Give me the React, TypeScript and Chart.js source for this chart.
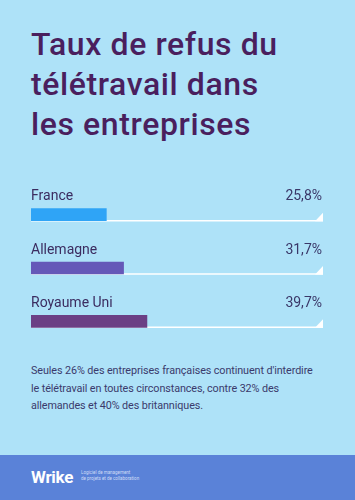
import React, { useEffect, useRef } from "react";
import { Chart, registerables } from "chart.js";

Chart.register(...registerables);

const categories: string[] = ["France", "Allemagne", "Royaume Uni"];
const values: number[] = [25.8, 31.7, 39.7];
const valueLabels: string[] = ["25,8%", "31,7%", "39,7%"];
const barColors: string[] = ["#2fa4f6", "#6558b8", "#6b3f85"];
const titleLines: string[] = ["Taux de refus du", "télétravail dans", "les entreprises"];
const noteLines: string[] = [
  "Seules 26% des entreprises françaises continuent d'interdire",
  "le télétravail en toutes circonstances, contre 32% des",
  "allemandes et 40% des britanniques.",
];

const FONT = "Roboto, 'Noto Sans', sans-serif";

const trackPlugin = {
  id: "trackAndLabels",
  beforeDatasetsDraw(chart: any) {
    const { ctx, chartArea } = chart;
    const meta = chart.getDatasetMeta(0);
    ctx.save();
    meta.data.forEach((bar: any) => {
      const yb = bar.y + bar.height / 2;
      ctx.strokeStyle = "#ffffff";
      ctx.lineWidth = 1.5;
      ctx.beginPath();
      ctx.moveTo(chartArea.left, yb);
      ctx.lineTo(chartArea.right, yb);
      ctx.stroke();
      ctx.fillStyle = "#ffffff";
      ctx.beginPath();
      ctx.moveTo(chartArea.right - 8, yb + 0.5);
      ctx.lineTo(chartArea.right, yb - 8);
      ctx.lineTo(chartArea.right, yb + 0.5);
      ctx.closePath();
      ctx.fill();
    });
    ctx.restore();
  },
  afterDatasetsDraw(chart: any) {
    const { ctx, chartArea } = chart;
    const meta = chart.getDatasetMeta(0);
    ctx.save();
    ctx.font = `400 14px ${FONT}`;
    ctx.textBaseline = "alphabetic";
    meta.data.forEach((bar: any, i: number) => {
      const top = bar.y - bar.height / 2;
      ctx.fillStyle = "#3b2c60";
      ctx.textAlign = "left";
      ctx.fillText(categories[i], chartArea.left, top - 8.5);
      ctx.fillStyle = "#3a3768";
      ctx.textAlign = "right";
      ctx.fillText(valueLabels[i], chartArea.right - 1, top - 8.5);
    });
    ctx.restore();
  },
};

function BarChart() {
  const ref = useRef<HTMLCanvasElement | null>(null);
  useEffect(() => {
    if (!ref.current) return;
    const chart = new Chart(ref.current, {
      type: "bar",
      data: {
        labels: categories,
        datasets: [
          {
            data: values,
            backgroundColor: barColors,
            borderWidth: 0,
            barThickness: 12,
          },
        ],
      },
      options: {
        indexAxis: "y",
        animation: false,
        responsive: false,
        maintainAspectRatio: false,
        layout: { padding: { left: 31, right: 32, top: 3, bottom: 2 } },
        plugins: { legend: { display: false }, tooltip: { enabled: false } },
        scales: {
          x: { display: false, min: 0, max: 100 },
          y: { display: false },
        },
      },
      plugins: [trackPlugin],
    } as any);
    return () => chart.destroy();
  }, []);
  return (
    <canvas
      ref={ref}
      width={355}
      height={165}
      style={{ position: "absolute", left: 0, top: 185, width: 355, height: 165 }}
    />
  );
}

export default function App() {
  useEffect(() => {
    document.body.style.margin = "0";
  }, []);
  return (
    <div
      style={{
        position: "fixed",
        left: 0,
        top: 0,
        width: 355,
        height: 500,
        background: "#aee2f8",
        overflow: "hidden",
        fontFamily: FONT,
      }}
    >
      <div
        style={{
          position: "absolute",
          left: 31,
          top: 23.5,
          fontSize: 32,
          fontWeight: 500,
          lineHeight: "40px",
          letterSpacing: 0.6,
          color: "#4a1f5e",
          whiteSpace: "nowrap",
        }}
      >
        {titleLines.map((l, i) => (
          <div key={i}>{l}</div>
        ))}
      </div>
      <BarChart />
      <div
        style={{
          position: "absolute",
          left: 31,
          top: 362.3,
          fontSize: 10.8,
          lineHeight: "17.5px",
          letterSpacing: -0.1,
          color: "#3b3a6c",
          whiteSpace: "nowrap",
        }}
      >
        {noteLines.map((l, i) => (
          <div key={i}>{l}</div>
        ))}
      </div>
      <div
        style={{
          position: "absolute",
          left: 0,
          top: 455,
          width: 355,
          height: 45,
          background: "#5a82d8",
        }}
      >
        <div
          style={{
            position: "absolute",
            left: 31,
            top: 12,
            fontSize: 17,
            fontWeight: 700,
            color: "#ffffff",
            lineHeight: "20px",
            letterSpacing: -0.3,
          }}
        >
          Wrike
        </div>
        <div
          style={{
            position: "absolute",
            left: 81,
            top: 15,
            fontSize: 4.5,
            lineHeight: "6px",
            color: "#cfdcf6",
          }}
        >
          <div>Logiciel de management</div>
          <div>de projets et de collaboration</div>
        </div>
      </div>
    </div>
  );
}
